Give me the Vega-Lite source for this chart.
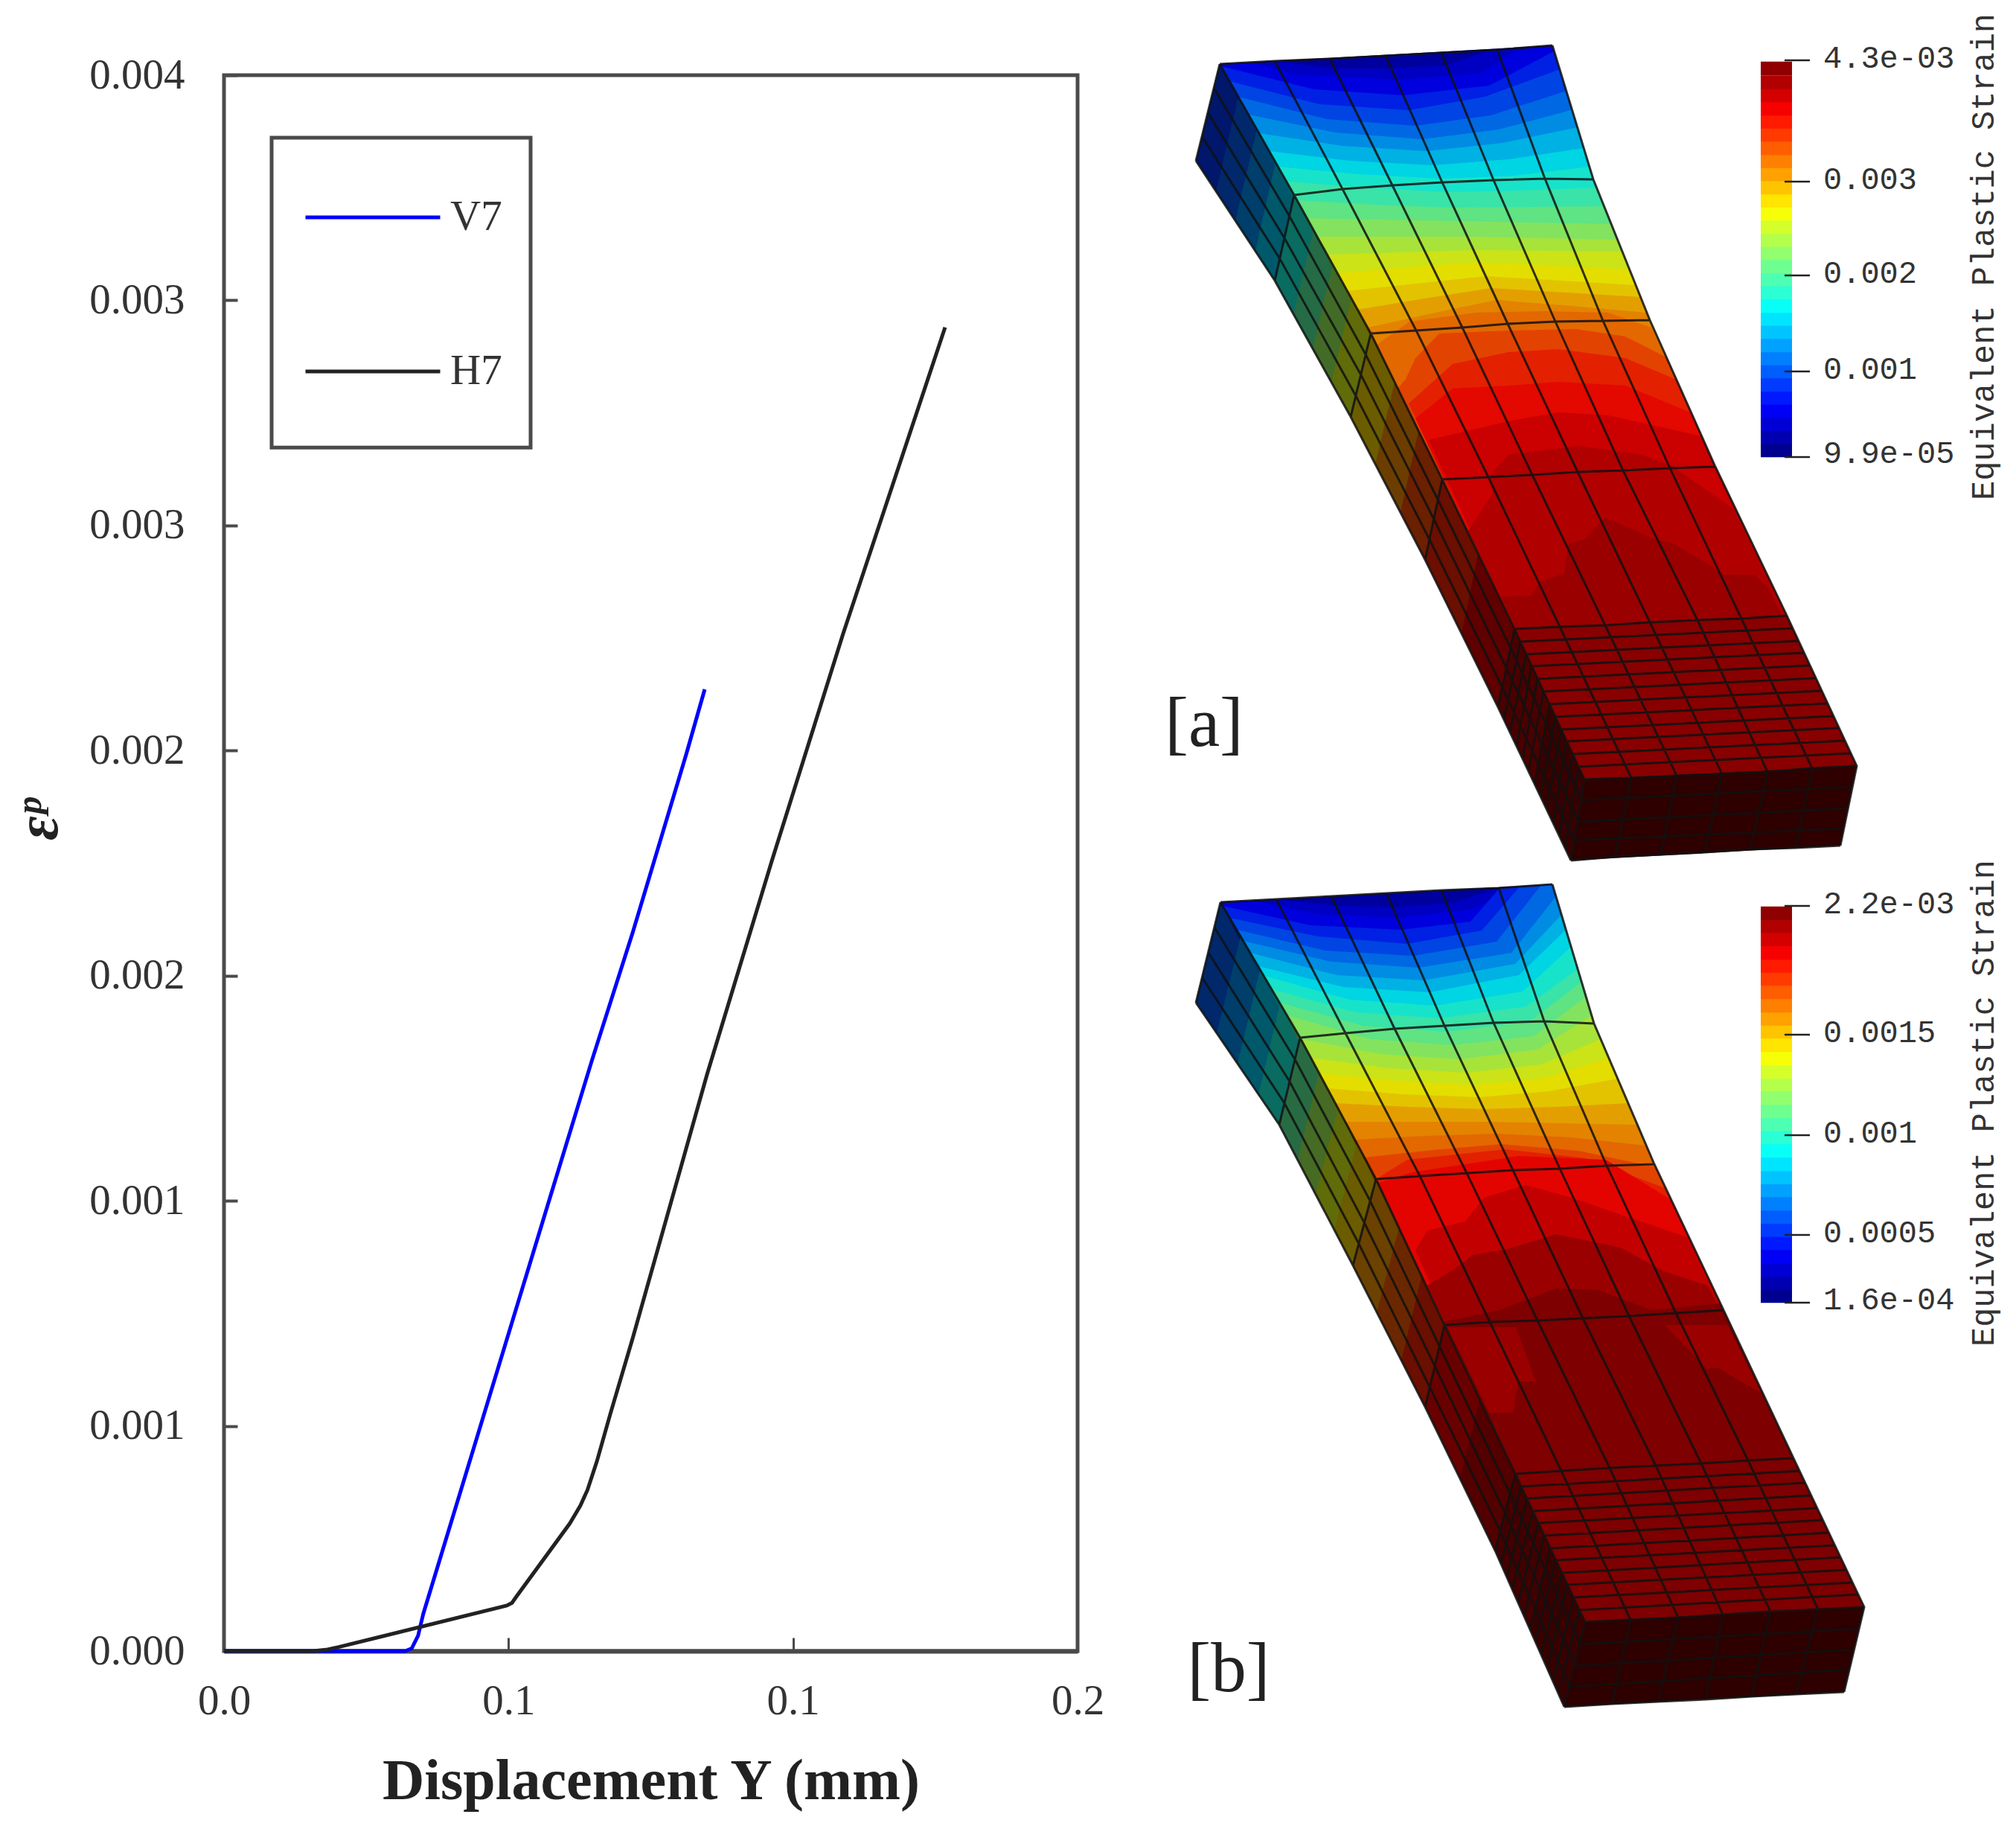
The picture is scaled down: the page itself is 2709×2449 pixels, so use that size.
{
"$schema":"https://vega.github.io/schema/vega-lite/v6.json",
"background":"white",
"padding":{"left":10,"top":15,"right":0,"bottom":0},
"spacing":0,
"config":{"view":{"stroke":"#4a4a4a","strokeWidth":5},"font":"Liberation Serif"},
"hconcat":[
{"width":1147,"height":2117,
 "layer":[
 {"data":{"values":[{"x0":0.00837,"x1":0.05388,"y0":0.002673,"y1":0.003361}]},
  "mark":{"type":"rect","fill":null,"stroke":"#4a4a4a","strokeWidth":5},
  "encoding":{"x":{"field":"x0","type":"quantitative","scale":{"domain":[0,0.15],"nice":false},
     "axis":{"values":[0,0.05,0.1,0.15],"labelExpr":"format(ceil(datum.value*10-0.0001)/10,'.1f')","grid":false,"domain":true,"domainColor":"#4a4a4a","domainWidth":6,"tickSize":-18,"tickWidth":3,"tickColor":"#4a4a4a","labelPadding":57,"labelFontSize":57,"labelColor":"#333333","labelFont":"Liberation Serif","labelBaseline":"top","labelFlush":false,"title":"Displacement Y (mm)","titleFontSize":78,"titleFont":"Liberation Serif","titleFontWeight":"bold","titleColor":"#222222","titlePadding":41}},
   "x2":{"field":"x1"},
   "y":{"field":"y0","type":"quantitative","scale":{"domain":[0,0.0035],"nice":false},
     "axis":{"values":[0,0.0005,0.001,0.0015,0.002,0.0025,0.003,0.0035],"labelExpr":"format(ceil(datum.value*1000-0.0001)/1000,'.3f')","grid":false,"domain":false,"tickSize":-18,"tickWidth":4,"tickColor":"#4a4a4a","labelPadding":71,"labelFontSize":57,"labelColor":"#333333","labelFont":"Liberation Serif","title":"εᵖ","titleFontSize":80,"titleFont":"Liberation Serif","titleFontWeight":"bold","titleFontStyle":"italic","titleColor":"#222222","titlePadding":26,"titleY":999}},
   "y2":{"field":"y1"}}},
 {"data":{"values":[{"x0":0,"y0":0.0035,"y1":0.003637}]},
  "mark":{"type":"rule","strokeOpacity":0,"strokeWidth":0.01},
  "encoding":{"x":{"field":"x0","type":"quantitative"},"y":{"field":"y0","type":"quantitative"},"y2":{"field":"y1"}}},
 {"data":{"values":[
  {"s":"V7","d":0,"e":0},{"s":"V7","d":0.03185,"e":0},{"s":"V7","d":0.03298,"e":0.0000057},{"s":"V7","d":0.03411,"e":0.0000343},{"s":"V7","d":0.03502,"e":0.0000828},{"s":"V7","d":0.05738,"e":0.001011},{"s":"V7","d":0.06461,"e":0.00131},{"s":"V7","d":0.0718,"e":0.001595},{"s":"V7","d":0.08121,"e":0.001991},{"s":"V7","d":0.08448,"e":0.002136},
  {"s":"H7","d":0,"e":0},{"s":"H7","d":0.01569,"e":0},{"s":"H7","d":0.01818,"e":0.0000033},{"s":"H7","d":0.02014,"e":0.0000088},{"s":"H7","d":0.04969,"e":0.000101},{"s":"H7","d":0.05061,"e":0.000107},{"s":"H7","d":0.05139,"e":0.000121},{"s":"H7","d":0.06075,"e":0.000283},{"s":"H7","d":0.06263,"e":0.000323},{"s":"H7","d":0.06388,"e":0.000358},{"s":"H7","d":0.06552,"e":0.000421},{"s":"H7","d":0.06787,"e":0.000526},{"s":"H7","d":0.0718,"e":0.000694},{"s":"H7","d":0.08487,"e":0.00128},{"s":"H7","d":0.09625,"e":0.001754},{"s":"H7","d":0.10881,"e":0.00226},{"s":"H7","d":0.12672,"e":0.00294}
  ]},
  "mark":{"type":"line","strokeWidth":5},
  "encoding":{"x":{"field":"d","type":"quantitative"},"y":{"field":"e","type":"quantitative"},
   "color":{"field":"s","type":"nominal","sort":["V7","H7"],"scale":{"domain":["V7","H7"],"range":["#0000ff","#222222"]},
    "legend":{"orient":"none","legendX":107,"legendY":98,"title":null,"padding":0,"symbolType":"stroke","symbolSize":32761,"symbolStrokeWidth":5,"rowPadding":86,"labelFontSize":57,"labelFont":"Liberation Serif","labelColor":"#333333","labelOffset":11}}}}
 ]},
{"width":1223,"height":2117,"view":{"stroke":null},
 "projection":{"type":"identity","reflectY":false,"scale":1,"translate":[-1486,-101]},
 "layer":[
 {"data":{"values":[
  {"type":"Feature","level":0.05,"geometry":{"type":"Polygon","coordinates":[[[1638,86],[2085,61],[2494,1029],[2128,1047],[1638,86]]]}},
  {"type":"Feature","level":0.09,"geometry":{"type":"Polygon","coordinates":[[[1638,86],[1712,82],[1790,92],[1861,92],[1940,88],[2000,68],[2085,61],[2494,1029],[2128,1047],[1638,86]]]}},
  {"type":"Feature","level":0.12,"geometry":{"type":"Polygon","coordinates":[[[1638,86],[1680,84],[1740,100],[1880,107],[1990,98],[2040,66],[2085,61],[2494,1029],[2128,1047],[1638,86]]]}},
  {"type":"Feature","level":0.16,"geometry":{"type":"Polygon","coordinates":[[[1640,89],[1765,120],[1884,128],[2000,115],[2087,69],[2494,1029],[2128,1047],[1640,89]]]}},
  {"type":"Feature","level":0.20,"geometry":{"type":"Polygon","coordinates":[[[1651,109],[1772,140],[1892,148],[1994,130],[2095,93],[2494,1029],[2128,1047],[1651,109]]]}},
  {"type":"Feature","level":0.24,"geometry":{"type":"Polygon","coordinates":[[[1663,130],[1782,160],[1901,169],[2002,155],[2104,122],[2494,1029],[2128,1047],[1663,130]]]}},
  {"type":"Feature","level":0.28,"geometry":{"type":"Polygon","coordinates":[[[1677,154],[1793,178],[1910,187],[2013,174],[2117,146],[2494,1029],[2128,1047],[1677,154]]]}},
  {"type":"Feature","level":0.32,"geometry":{"type":"Polygon","coordinates":[[[1691,179],[1803,196],[1916,203],[2018,192],[2119,171],[2494,1029],[2128,1047],[1691,179]]]}},
  {"type":"Feature","level":0.36,"geometry":{"type":"Polygon","coordinates":[[[1704,203],[1814,216],[1925,222],[2026,214],[2127,199],[2494,1029],[2128,1047],[1704,203]]]}},
  {"type":"Feature","level":0.40,"geometry":{"type":"Polygon","coordinates":[[[1717,224],[1825,234],[1933,240],[2034,236],[2135,224],[2494,1029],[2128,1047],[1717,224]]]}},
  {"type":"Feature","level":0.44,"geometry":{"type":"Polygon","coordinates":[[[1728,244],[1834,252],[1941,258],[2042,256],[2144,252],[2494,1029],[2128,1047],[1728,244]]]}},
  {"type":"Feature","level":0.48,"geometry":{"type":"Polygon","coordinates":[[[1742,269],[1846,275],[1951,279],[2052,278],[2154,277],[2494,1029],[2128,1047],[1742,269]]]}},
  {"type":"Feature","level":0.52,"geometry":{"type":"Polygon","coordinates":[[[1755,293],[1857,295],[1960,297],[2062,299],[2164,301],[2494,1029],[2128,1047],[1755,293]]]}},
  {"type":"Feature","level":0.56,"geometry":{"type":"Polygon","coordinates":[[[1769,318],[1869,318],[1970,318],[2071,320],[2173,322],[2494,1029],[2128,1047],[1769,318]]]}},
  {"type":"Feature","level":0.60,"geometry":{"type":"Polygon","coordinates":[[[1782,342],[1880,339],[1978,336],[2078,337],[2179,338],[2494,1029],[2128,1047],[1782,342]]]}},
  {"type":"Feature","level":0.63,"geometry":{"type":"Polygon","coordinates":[[[1796,367],[1891,359],[1986,352],[2087,357],[2189,362],[2494,1029],[2128,1047],[1796,367]]]}},
  {"type":"Feature","level":0.66,"geometry":{"type":"Polygon","coordinates":[[[1809,391],[1902,381],[1996,371],[2096,377],[2197,383],[2494,1029],[2128,1047],[1809,391]]]}},
  {"type":"Feature","level":0.70,"geometry":{"type":"Polygon","coordinates":[[[1823,416],[1913,401],[2003,387],[2103,393],[2204,399],[2494,1029],[2128,1047],[1823,416]]]}},
  {"type":"Feature","level":0.73,"geometry":{"type":"Polygon","coordinates":[[[1837,440],[1923,421],[2010,403],[2111,411],[2212,420],[2494,1029],[2128,1047],[1837,440]]]}},
  {"type":"Feature","level":0.76,"geometry":{"type":"Polygon","coordinates":[[[1848,464],[1893,432],[1982,420],[2071,418],[2160,420],[2218,440],[2494,1029],[2128,1047],[1848,464]]]}},
  {"type":"Feature","level":0.80,"geometry":{"type":"Polygon","coordinates":[[[1877,522],[1888,509],[1901,481],[1933,448],[2026,444],[2116,442],[2183,452],[2280,501],[2494,1029],[2128,1047],[1877,522]]]}},
  {"type":"Feature","level":0.84,"geometry":{"type":"Polygon","coordinates":[[[1892,542],[1951,489],[2026,473],[2093,469],[2183,481],[2280,522],[2494,1029],[2128,1047],[1892,542]]]}},
  {"type":"Feature","level":0.865,"geometry":{"type":"Polygon","coordinates":[[[1901,562],[1951,522],[2026,518],[2093,513],[2183,518],[2280,558],[2494,1029],[2128,1047],[1901,562]]]}},
  {"type":"Feature","level":0.90,"geometry":{"type":"Polygon","coordinates":[[[1919,591],[2026,566],[2093,554],[2160,558],[2290,587],[2494,1029],[2128,1047],[1919,591]]]}},
  {"type":"Feature","level":0.93,"geometry":{"type":"Polygon","coordinates":[[[1972,713],[2005,663],[1999,641],[2026,611],[2120,599],[2205,611],[2244,625],[2329,684],[2494,1029],[2128,1047],[1972,713]]]}},
  {"type":"Feature","level":0.955,"geometry":{"type":"Polygon","coordinates":[[[2016,802],[2057,800],[2068,782],[2101,770],[2106,731],[2128,725],[2155,695],[2222,724],[2249,731],[2293,757],[2316,772],[2356,772],[2374,788],[2494,1029],[2128,1047],[2016,802]]]}},
  {"type":"Feature","level":0.975,"geometry":{"type":"Polygon","coordinates":[[[2034,845],[2400,827],[2494,1029],[2128,1047],[2034,845]]]}},
  {"type":"Feature","level":0.05,"geometry":{"type":"Polygon","coordinates":[[[1639,1212],[2085,1188],[2504,2159],[2129,2179],[1639,1212]]]}},
  {"type":"Feature","level":0.09,"geometry":{"type":"Polygon","coordinates":[[[1639,1212],[1714,1208],[1790,1216],[1869,1219],[1950,1213],[2013,1193],[2085,1188],[2504,2159],[2129,2179],[1639,1212]]]}},
  {"type":"Feature","level":0.12,"geometry":{"type":"Polygon","coordinates":[[[1639,1212],[1680,1210],[1770,1228],[1875,1233],[1975,1222],[2050,1190],[2085,1188],[2504,2159],[2129,2179],[1639,1212]]]}},
  {"type":"Feature","level":0.16,"geometry":{"type":"Polygon","coordinates":[[[1642,1217],[1760,1243],[1882,1249],[1975,1238],[2014,1193],[2085,1188],[2504,2159],[2129,2179],[1642,1217]]]}},
  {"type":"Feature","level":0.20,"geometry":{"type":"Polygon","coordinates":[[[1651,1233],[1770,1258],[1890,1268],[1990,1250],[2042,1190],[2085,1188],[2504,2159],[2129,2179],[1651,1233]]]}},
  {"type":"Feature","level":0.24,"geometry":{"type":"Polygon","coordinates":[[[1661,1249],[1780,1277],[1898,1284],[2010,1265],[2070,1189],[2085,1188],[2504,2159],[2129,2179],[1661,1249]]]}},
  {"type":"Feature","level":0.28,"geometry":{"type":"Polygon","coordinates":[[[1670,1264],[1788,1292],[1905,1300],[2030,1280],[2090,1204],[2504,2159],[2129,2179],[1670,1264]]]}},
  {"type":"Feature","level":0.32,"geometry":{"type":"Polygon","coordinates":[[[1679,1280],[1796,1310],[1912,1317],[2035,1295],[2097,1229],[2504,2159],[2129,2179],[1679,1280]]]}},
  {"type":"Feature","level":0.36,"geometry":{"type":"Polygon","coordinates":[[[1690,1298],[1805,1326],[1920,1333],[2040,1310],[2103,1249],[2504,2159],[2129,2179],[1690,1298]]]}},
  {"type":"Feature","level":0.40,"geometry":{"type":"Polygon","coordinates":[[[1698,1311],[1813,1343],[1928,1351],[2045,1332],[2110,1272],[2504,2159],[2129,2179],[1698,1311]]]}},
  {"type":"Feature","level":0.44,"geometry":{"type":"Polygon","coordinates":[[[1708,1329],[1821,1360],[1935,1368],[2050,1352],[2119,1302],[2504,2159],[2129,2179],[1708,1329]]]}},
  {"type":"Feature","level":0.48,"geometry":{"type":"Polygon","coordinates":[[[1719,1347],[1831,1378],[1943,1386],[2055,1372],[2124,1319],[2504,2159],[2129,2179],[1719,1347]]]}},
  {"type":"Feature","level":0.52,"geometry":{"type":"Polygon","coordinates":[[[1729,1364],[1840,1396],[1952,1404],[2060,1392],[2130,1339],[2504,2159],[2129,2179],[1729,1364]]]}},
  {"type":"Feature","level":0.56,"geometry":{"type":"Polygon","coordinates":[[[1747,1396],[1854,1416],[1961,1423],[2065,1410],[2138,1364],[2504,2159],[2129,2179],[1747,1396]]]}},
  {"type":"Feature","level":0.60,"geometry":{"type":"Polygon","coordinates":[[[1760,1421],[1865,1435],[1970,1441],[2070,1430],[2150,1396],[2504,2159],[2129,2179],[1760,1421]]]}},
  {"type":"Feature","level":0.63,"geometry":{"type":"Polygon","coordinates":[[[1771,1441],[1875,1452],[1978,1458],[2075,1448],[2161,1421],[2504,2159],[2129,2179],[1771,1441]]]}},
  {"type":"Feature","level":0.66,"geometry":{"type":"Polygon","coordinates":[[[1782,1462],[1884,1470],[1986,1474],[2080,1466],[2173,1449],[2504,2159],[2129,2179],[1782,1462]]]}},
  {"type":"Feature","level":0.70,"geometry":{"type":"Polygon","coordinates":[[[1793,1482],[1893,1487],[1994,1490],[2090,1487],[2187,1482],[2504,2159],[2129,2179],[1793,1482]]]}},
  {"type":"Feature","level":0.73,"geometry":{"type":"Polygon","coordinates":[[[1806,1507],[1903,1507],[2001,1507],[2100,1509],[2199,1511],[2504,2159],[2129,2179],[1806,1507]]]}},
  {"type":"Feature","level":0.76,"geometry":{"type":"Polygon","coordinates":[[[1819,1531],[1914,1526],[2010,1523],[2110,1528],[2211,1539],[2504,2159],[2129,2179],[1819,1531]]]}},
  {"type":"Feature","level":0.80,"geometry":{"type":"Polygon","coordinates":[[[1832,1555],[1924,1545],[2016,1537],[2120,1546],[2224,1568],[2504,2159],[2129,2179],[1832,1555]]]}},
  {"type":"Feature","level":0.84,"geometry":{"type":"Polygon","coordinates":[[[1848,1584],[1890,1558],[2021,1544],[2130,1556],[2236,1596],[2504,2159],[2129,2179],[1848,1584]]]}},
  {"type":"Feature","level":0.87,"geometry":{"type":"Polygon","coordinates":[[[1848,1590],[1896,1575],[2039,1553],[2157,1558],[2245,1612],[2504,2159],[2129,2179],[1848,1590]]]}},
  {"type":"Feature","level":0.91,"geometry":{"type":"Polygon","coordinates":[[[1901,1680],[1917,1653],[1968,1641],[1993,1609],[2049,1592],[2111,1609],[2192,1637],[2266,1662],[2504,2159],[2129,2179],[1901,1680]]]}},
  {"type":"Feature","level":0.955,"geometry":{"type":"Polygon","coordinates":[[[1917,1727],[1950,1707],[1978,1686],[2024,1678],[2090,1658],[2177,1676],[2233,1707],[2294,1727],[2504,2159],[2129,2179],[1917,1727]]]}},
  {"type":"Feature","level":0.985,"geometry":{"type":"Polygon","coordinates":[[[1937,1776],[2014,1760],[2090,1731],[2146,1733],[2218,1760],[2310,1751],[2504,2159],[2129,2179],[1937,1776]]]}},
  {"type":"Feature","level":0.955,"geometry":{"type":"Polygon","coordinates":[[[1944,1783],[2036,1783],[2063,1856],[2038,1856],[2033,1897],[2001,1899],[1944,1783]]]}},
  {"type":"Feature","level":0.955,"geometry":{"type":"Polygon","coordinates":[[[2236,1780],[2320,1780],[2366,1871],[2343,1859],[2307,1837],[2293,1839],[2279,1825],[2236,1780]]]}}
  ]},
  "mark":{"type":"geoshape","stroke":null,"clip":false},
  "encoding":{"color":{"field":"level","type":"quantitative","scale":{"domain":[0,0.125,0.375,0.625,0.875,1],"range":["#00007f","#0000ff","#00ffff","#ffff00","#ff0000","#7f0000"],"interpolate":"rgb"},"legend":null}}},
 {"data":{"values":[
  {"type":"Feature","geometry":{"type":"Polygon","coordinates":[[[2085,40],[2085,61],[2140,241],[2216,430],[2304,627],[2400,827],[2494,1029],[2560,1029],[2560,40],[2085,40]]]}},
  {"type":"Feature","geometry":{"type":"Polygon","coordinates":[[[2085,1175],[2085,1188],[2141,1375],[2222,1564],[2315,1760],[2409,1959],[2504,2159],[2570,2159],[2570,1175],[2085,1175]]]}}
  ]},
  "mark":{"type":"geoshape","fill":"#ffffff","stroke":null,"clip":false},"encoding":{}},
 {"data":{"values":[
  {"type":"Feature","geometry":{"type":"Polygon","coordinates":[[[1638,86],[2085,61],[2140,241],[2216,430],[2304,627],[2400,827],[2494,1029],[2128,1047],[2034,845],[1937,644],[1841,448],[1738,262],[1638,86]]]}},
  {"type":"Feature","geometry":{"type":"Polygon","coordinates":[[[1639,1212],[2085,1188],[2141,1375],[2222,1564],[2315,1760],[2409,1959],[2504,2159],[2129,2179],[2035,1980],[1940,1780],[1848,1584],[1746,1394],[1639,1212]]]}}
  ]},
  "mark":{"type":"geoshape","fill":"#000000","fillOpacity":0.11,"stroke":null,"clip":false},"encoding":{}},
 {"data":{"values":[
  {"type":"Feature","level":0.18,"geometry":{"type":"Polygon","coordinates":[[[1638,86],[1606,216],[2110,1156],[2128,1047],[1638,86]]]}},
  {"type":"Feature","level":0.22,"geometry":{"type":"Polygon","coordinates":[[[1663,130],[1633,257],[2110,1156],[2128,1047],[1663,130]]]}},
  {"type":"Feature","level":0.27,"geometry":{"type":"Polygon","coordinates":[[[1688,174],[1659,296],[2110,1156],[2128,1047],[1688,174]]]}},
  {"type":"Feature","level":0.33,"geometry":{"type":"Polygon","coordinates":[[[1713,218],[1686,336],[2110,1156],[2128,1047],[1713,218]]]}},
  {"type":"Feature","level":0.40,"geometry":{"type":"Polygon","coordinates":[[[1738,262],[1712,377],[2110,1156],[2128,1047],[1738,262]]]}},
  {"type":"Feature","level":0.46,"geometry":{"type":"Polygon","coordinates":[[[1764,308],[1737,423],[2110,1156],[2128,1047],[1764,308]]]}},
  {"type":"Feature","level":0.53,"geometry":{"type":"Polygon","coordinates":[[[1790,355],[1763,468],[2110,1156],[2128,1047],[1790,355]]]}},
  {"type":"Feature","level":0.60,"geometry":{"type":"Polygon","coordinates":[[[1815,401],[1788,514],[2110,1156],[2128,1047],[1815,401]]]}},
  {"type":"Feature","level":0.66,"geometry":{"type":"Polygon","coordinates":[[[1841,448],[1814,560],[2110,1156],[2128,1047],[1841,448]]]}},
  {"type":"Feature","level":0.73,"geometry":{"type":"Polygon","coordinates":[[[1873,513],[1847,624],[2110,1156],[2128,1047],[1873,513]]]}},
  {"type":"Feature","level":0.80,"geometry":{"type":"Polygon","coordinates":[[[1905,579],[1881,688],[2110,1156],[2128,1047],[1905,579]]]}},
  {"type":"Feature","level":0.84,"geometry":{"type":"Polygon","coordinates":[[[1937,644],[1914,752],[2110,1156],[2128,1047],[1937,644]]]}},
  {"type":"Feature","level":0.90,"geometry":{"type":"Polygon","coordinates":[[[1985,745],[1963,851],[2110,1156],[2128,1047],[1985,745]]]}},
  {"type":"Feature","level":0.95,"geometry":{"type":"Polygon","coordinates":[[[2034,845],[2012,950],[2110,1156],[2128,1047],[2034,845]]]}},
  {"type":"Feature","level":0.99,"geometry":{"type":"Polygon","coordinates":[[[2081,946],[2061,1052],[2110,1156],[2128,1047],[2081,946]]]}},
  {"type":"Feature","level":0.22,"geometry":{"type":"Polygon","coordinates":[[[1639,1212],[1606,1347],[2101,2293],[2129,2179],[1639,1212]]]}},
  {"type":"Feature","level":0.27,"geometry":{"type":"Polygon","coordinates":[[[1666,1258],[1634,1388],[2101,2293],[2129,2179],[1666,1258]]]}},
  {"type":"Feature","level":0.33,"geometry":{"type":"Polygon","coordinates":[[[1692,1303],[1662,1429],[2101,2293],[2129,2179],[1692,1303]]]}},
  {"type":"Feature","level":0.40,"geometry":{"type":"Polygon","coordinates":[[[1719,1349],[1690,1470],[2101,2293],[2129,2179],[1719,1349]]]}},
  {"type":"Feature","level":0.47,"geometry":{"type":"Polygon","coordinates":[[[1746,1394],[1718,1511],[2101,2293],[2129,2179],[1746,1394]]]}},
  {"type":"Feature","level":0.54,"geometry":{"type":"Polygon","coordinates":[[[1771,1441],[1743,1558],[2101,2293],[2129,2179],[1771,1441]]]}},
  {"type":"Feature","level":0.60,"geometry":{"type":"Polygon","coordinates":[[[1797,1489],[1767,1605],[2101,2293],[2129,2179],[1797,1489]]]}},
  {"type":"Feature","level":0.66,"geometry":{"type":"Polygon","coordinates":[[[1822,1536],[1792,1653],[2101,2293],[2129,2179],[1822,1536]]]}},
  {"type":"Feature","level":0.72,"geometry":{"type":"Polygon","coordinates":[[[1848,1584],[1817,1700],[2101,2293],[2129,2179],[1848,1584]]]}},
  {"type":"Feature","level":0.78,"geometry":{"type":"Polygon","coordinates":[[[1879,1649],[1849,1763],[2101,2293],[2129,2179],[1879,1649]]]}},
  {"type":"Feature","level":0.84,"geometry":{"type":"Polygon","coordinates":[[[1909,1715],[1882,1827],[2101,2293],[2129,2179],[1909,1715]]]}},
  {"type":"Feature","level":0.88,"geometry":{"type":"Polygon","coordinates":[[[1940,1780],[1914,1890],[2101,2293],[2129,2179],[1940,1780]]]}},
  {"type":"Feature","level":0.93,"geometry":{"type":"Polygon","coordinates":[[[1987,1880],[1961,1986],[2101,2293],[2129,2179],[1987,1880]]]}},
  {"type":"Feature","level":0.97,"geometry":{"type":"Polygon","coordinates":[[[2035,1980],[2008,2083],[2101,2293],[2129,2179],[2035,1980]]]}},
  {"type":"Feature","level":0.99,"geometry":{"type":"Polygon","coordinates":[[[2082,2080],[2055,2188],[2101,2293],[2129,2179],[2082,2080]]]}}
  ]},
  "mark":{"type":"geoshape","stroke":null,"clip":false},
  "encoding":{"color":{"field":"level","type":"quantitative","legend":null}}},
 {"data":{"values":[
  {"type":"Feature","geometry":{"type":"Polygon","coordinates":[[[1638,86],[1738,262],[1841,448],[1937,644],[2034,845],[2128,1047],[2110,1156],[2012,950],[1914,752],[1814,560],[1712,377],[1606,216],[1638,86]]]}},
  {"type":"Feature","geometry":{"type":"Polygon","coordinates":[[[1639,1212],[1746,1394],[1848,1584],[1940,1780],[2035,1980],[2129,2179],[2101,2293],[2008,2083],[1914,1890],[1817,1700],[1718,1511],[1606,1347],[1639,1212]]]}}
  ]},
  "mark":{"type":"geoshape","fill":"#000000","fillOpacity":0.58,"stroke":null,"clip":false},"encoding":{}},
 {"data":{"values":[
  {"type":"Feature","geometry":{"type":"Polygon","coordinates":[[[1606,216],[1712,377],[1814,560],[1914,752],[2012,950],[2110,1156],[2110,1170],[1550,1170],[1550,216],[1606,216]]]}},
  {"type":"Feature","geometry":{"type":"Polygon","coordinates":[[[1606,1347],[1718,1511],[1817,1700],[1914,1890],[2008,2083],[2101,2293],[2101,2310],[1550,2310],[1550,1347],[1606,1347]]]}}
  ]},
  "mark":{"type":"geoshape","fill":"#ffffff","stroke":null,"clip":false},"encoding":{}},
 {"data":{"values":[
  {"type":"Feature","geometry":{"type":"Polygon","coordinates":[[[2128,1047],[2494,1029],[2472,1136],[2110,1156],[2128,1047]]]}},
  {"type":"Feature","geometry":{"type":"Polygon","coordinates":[[[2129,2179],[2504,2159],[2477,2273],[2101,2293],[2129,2179]]]}}
  ]},
  "mark":{"type":"geoshape","fill":"#2e0000","stroke":null,"clip":false},"encoding":{}},
 {"data":{"values":[
  {"type":"Feature","geometry":{"type":"MultiLineString","coordinates":[
   [[1638,86],[1712,82],[1786,79],[1861,75],[1936,71],[2011,67],[2085,61]],
   [[1738,262],[1803,254],[1870,249],[1937,245],[2006,242],[2075,240],[2140,241]],
   [[1841,448],[1902,444],[1964,440],[2025,435],[2089,432],[2153,431],[2216,430]],
   [[1937,644],[1999,641],[2058,638],[2119,634],[2180,632],[2243,629],[2304,627]],
   [[2034,845],[2095,842],[2156,840],[2216,836],[2280,833],[2339,831],[2400,827]],
   [[2128,1047],[2191,1045],[2252,1042],[2313,1040],[2374,1037],[2434,1032],[2494,1029]],
   [[2110,1156],[2169,1151],[2231,1148],[2290,1145],[2351,1141],[2412,1139],[2472,1136]],
   [[1638,86],[1738,262],[1841,448],[1937,644],[2034,845],[2128,1047],[2110,1156]],
   [[1712,82],[1803,254],[1902,444],[1999,641],[2095,842],[2191,1045],[2169,1151]],
   [[1786,79],[1870,249],[1964,440],[2058,638],[2156,840],[2252,1042],[2231,1148]],
   [[1861,75],[1937,245],[2025,435],[2119,634],[2216,836],[2313,1040],[2290,1145]],
   [[1936,71],[2006,242],[2089,432],[2180,632],[2280,833],[2374,1037],[2351,1141]],
   [[2011,67],[2075,240],[2153,431],[2243,629],[2339,831],[2434,1032],[2412,1139]],
   [[2085,61],[2140,241],[2216,430],[2304,627],[2400,827],[2494,1029],[2472,1136]],
   [[2042,862],[2408,844]],[[2050,879],[2416,861]],[[2057,895],[2423,877]],[[2065,912],[2431,894]],[[2073,929],[2439,911]],[[2081,946],[2447,928]],[[2089,963],[2455,945]],[[2097,980],[2463,962]],[[2104,996],[2470,978]],[[2112,1013],[2478,995]],[[2120,1030],[2486,1012]],
   [[2124,1075],[2487,1057]],[[2118,1104],[2481,1086]],[[2112,1129],[2476,1113]],
   [[1630,118],[1732,291],[1834,476],[1931,671],[2029,871],[2124,1074]],
   [[1622,151],[1725,320],[1828,504],[1926,698],[2023,897],[2119,1102]],
   [[1614,183],[1719,348],[1821,532],[1920,725],[2018,924],[2114,1129]],
   [[1606,216],[1712,377],[1814,560],[1914,752],[2012,950],[2110,1156]],
   [[1638,86],[1606,216]],[[1738,262],[1712,377]],[[1841,448],[1814,560]],[[1937,644],[1914,752]],[[2034,845],[2012,950]],
   [[2042,862],[2020,967]],[[2050,879],[2028,984]],[[2057,895],[2037,1002]],[[2065,912],[2045,1019]],[[2073,929],[2053,1036]],[[2081,946],[2061,1053]],[[2089,963],[2069,1070]],[[2097,980],[2077,1088]],[[2104,996],[2086,1105]],[[2112,1013],[2094,1122]],[[2120,1030],[2102,1139]],
   [[1639,1212],[1714,1208],[1788,1204],[1862,1200],[1936,1196],[2013,1193],[2085,1188]],
   [[1746,1394],[1807,1388],[1873,1382],[1940,1378],[2006,1374],[2074,1372],[2141,1375]],
   [[1848,1584],[1907,1580],[1970,1576],[2032,1572],[2095,1570],[2158,1566],[2222,1564]],
   [[1940,1780],[2001,1776],[2065,1774],[2126,1771],[2188,1768],[2251,1764],[2315,1760]],
   [[2035,1980],[2097,1976],[2162,1972],[2224,1969],[2285,1966],[2348,1962],[2409,1959]],
   [[2129,2179],[2190,2176],[2254,2173],[2314,2169],[2378,2165],[2442,2162],[2504,2159]],
   [[2101,2293],[2165,2289],[2227,2286],[2291,2283],[2353,2279],[2412,2276],[2477,2273]],
   [[1639,1212],[1746,1394],[1848,1584],[1940,1780],[2035,1980],[2129,2179],[2101,2293]],
   [[1714,1208],[1807,1388],[1907,1580],[2001,1776],[2097,1976],[2190,2176],[2165,2289]],
   [[1788,1204],[1873,1382],[1970,1576],[2065,1774],[2162,1972],[2254,2173],[2227,2286]],
   [[1862,1200],[1940,1378],[2032,1572],[2126,1771],[2224,1969],[2314,2169],[2291,2283]],
   [[1936,1196],[2006,1374],[2095,1570],[2188,1768],[2285,1966],[2378,2165],[2353,2279]],
   [[2013,1193],[2074,1372],[2158,1566],[2251,1764],[2348,1962],[2442,2162],[2412,2276]],
   [[2085,1188],[2141,1375],[2222,1564],[2315,1760],[2409,1959],[2504,2159],[2477,2273]],
   [[2043,1997],[2417,1976]],[[2051,2013],[2425,1992]],[[2059,2030],[2433,2009]],[[2066,2046],[2441,2026]],[[2074,2063],[2449,2042]],[[2082,2080],[2457,2059]],[[2090,2096],[2464,2076]],[[2098,2113],[2472,2092]],[[2105,2129],[2480,2109]],[[2113,2146],[2488,2126]],[[2121,2163],[2496,2142]],
   [[2121,2209],[2495,2188]],[[2114,2238],[2488,2216]],[[2107,2266],[2481,2243]],
   [[1631,1246],[1739,1423],[1840,1613],[1933,1808],[2028,2006],[2122,2208]],
   [[1623,1280],[1732,1453],[1832,1642],[1927,1835],[2021,2032],[2115,2236]],
   [[1614,1313],[1725,1482],[1825,1671],[1920,1863],[2015,2057],[2108,2265]],
   [[1606,1347],[1718,1511],[1817,1700],[1914,1890],[2008,2083],[2101,2293]],
   [[1639,1212],[1606,1347]],[[1746,1394],[1718,1511]],[[1848,1584],[1817,1700]],[[1940,1780],[1914,1890]],[[2035,1980],[2008,2083]],
   [[2043,1997],[2016,2100]],[[2051,2013],[2024,2118]],[[2059,2030],[2031,2135]],[[2066,2046],[2039,2153]],[[2074,2063],[2047,2170]],[[2082,2080],[2055,2188]],[[2090,2096],[2062,2205]],[[2098,2113],[2070,2223]],[[2105,2129],[2078,2240]],[[2113,2146],[2086,2258]],[[2121,2163],[2093,2275]]
  ]}}
  ]},
  "mark":{"type":"geoshape","filled":false,"stroke":"#111111","strokeWidth":3,"strokeOpacity":0.85,"clip":false},"encoding":{}},
 {"data":{"values":[
  {"lv":0.017,"x1":2365,"x2":2407,"ya":605,"yb":1741},{"lv":0.05,"x1":2365,"x2":2407,"ya":587.5,"yb":1723.5},{"lv":0.083,"x1":2365,"x2":2407,"ya":570,"yb":1706},{"lv":0.117,"x1":2365,"x2":2407,"ya":552,"yb":1688},{"lv":0.15,"x1":2365,"x2":2407,"ya":534.5,"yb":1670},{"lv":0.183,"x1":2365,"x2":2407,"ya":517,"yb":1652.5},{"lv":0.217,"x1":2365,"x2":2407,"ya":499,"yb":1635},{"lv":0.25,"x1":2365,"x2":2407,"ya":481.5,"yb":1617},{"lv":0.283,"x1":2365,"x2":2407,"ya":464,"yb":1599},{"lv":0.317,"x1":2365,"x2":2407,"ya":446,"yb":1581.5},
  {"lv":0.35,"x1":2365,"x2":2407,"ya":428.5,"yb":1564},{"lv":0.383,"x1":2365,"x2":2407,"ya":411,"yb":1546},{"lv":0.417,"x1":2365,"x2":2407,"ya":393,"yb":1528},{"lv":0.45,"x1":2365,"x2":2407,"ya":375.5,"yb":1510.5},{"lv":0.483,"x1":2365,"x2":2407,"ya":358,"yb":1493},{"lv":0.517,"x1":2365,"x2":2407,"ya":340,"yb":1475},{"lv":0.55,"x1":2365,"x2":2407,"ya":322.5,"yb":1457},{"lv":0.583,"x1":2365,"x2":2407,"ya":305,"yb":1440},{"lv":0.617,"x1":2365,"x2":2407,"ya":287,"yb":1422},{"lv":0.65,"x1":2365,"x2":2407,"ya":269.5,"yb":1404},
  {"lv":0.683,"x1":2365,"x2":2407,"ya":252,"yb":1386},{"lv":0.717,"x1":2365,"x2":2407,"ya":234,"yb":1368.5},{"lv":0.75,"x1":2365,"x2":2407,"ya":216.5,"yb":1351},{"lv":0.783,"x1":2365,"x2":2407,"ya":199,"yb":1333},{"lv":0.817,"x1":2365,"x2":2407,"ya":181,"yb":1315},{"lv":0.85,"x1":2365,"x2":2407,"ya":163.5,"yb":1297.5},{"lv":0.883,"x1":2365,"x2":2407,"ya":146,"yb":1280},{"lv":0.917,"x1":2365,"x2":2407,"ya":128,"yb":1262},{"lv":0.95,"x1":2365,"x2":2407,"ya":110.5,"yb":1244},{"lv":0.983,"x1":2365,"x2":2407,"ya":92,"yb":1227}
  ]},
  "layer":[
   {"mark":{"type":"rule","strokeWidth":18.5,"clip":false},"encoding":{"longitude":{"field":"x1","type":"quantitative"},"latitude":{"field":"ya","type":"quantitative"},"longitude2":{"field":"x2"},"latitude2":{"field":"ya"},"color":{"field":"lv","type":"quantitative","legend":null}}},
   {"mark":{"type":"rule","strokeWidth":18.5,"clip":false},"encoding":{"longitude":{"field":"x1","type":"quantitative"},"latitude":{"field":"yb","type":"quantitative"},"longitude2":{"field":"x2"},"latitude2":{"field":"yb"},"color":{"field":"lv","type":"quantitative","legend":null}}}
  ]},
 {"data":{"values":[
  {"x1":2397,"x2":2431,"y":81,"t":"4.3e-03","ty":78},{"x1":2397,"x2":2431,"y":244,"t":"0.003","ty":241},{"x1":2397,"x2":2431,"y":370,"t":"0.002","ty":367},{"x1":2397,"x2":2431,"y":499,"t":"0.001","ty":496},{"x1":2397,"x2":2431,"y":614,"t":"9.9e-05","ty":609},
  {"x1":2397,"x2":2431,"y":1217,"t":"2.2e-03","ty":1214},{"x1":2397,"x2":2431,"y":1390,"t":"0.0015","ty":1387},{"x1":2397,"x2":2431,"y":1525,"t":"0.001","ty":1522},{"x1":2397,"x2":2431,"y":1659,"t":"0.0005","ty":1656},{"x1":2397,"x2":2431,"y":1750,"t":"1.6e-04","ty":1746}
  ]},
  "layer":[
   {"mark":{"type":"rule","stroke":"#222222","strokeWidth":2.5,"clip":false},"encoding":{"longitude":{"field":"x1","type":"quantitative"},"latitude":{"field":"y","type":"quantitative"},"longitude2":{"field":"x2"},"latitude2":{"field":"y"}}},
   {"mark":{"type":"text","align":"left","baseline":"middle","font":"Liberation Mono","fontSize":42,"fill":"#333333","dx":18,"clip":false},"encoding":{"longitude":{"field":"x2","type":"quantitative"},"latitude":{"field":"ty","type":"quantitative"},"text":{"field":"t"}}}
  ]},
 {"data":{"values":[{"t":"Equivalent Plastic Strain","x":2678,"y":345},{"t":"Equivalent Plastic Strain","x":2678,"y":1482}]},
  "mark":{"type":"text","angle":270,"align":"center","baseline":"alphabetic","font":"Liberation Mono","fontSize":43.6,"fill":"#333333","clip":false},
  "encoding":{"longitude":{"field":"x","type":"quantitative"},"latitude":{"field":"y","type":"quantitative"},"text":{"field":"t"}}},
 {"data":{"values":[{"t":"[a]","x":1617,"y":1002},{"t":"[b]","x":1650,"y":2272}]},
  "mark":{"type":"text","align":"center","baseline":"alphabetic","font":"Liberation Serif","fontSize":95,"fill":"#222222","clip":false},
  "encoding":{"longitude":{"field":"x","type":"quantitative"},"latitude":{"field":"y","type":"quantitative"},"text":{"field":"t"}}}
 ]}
]}
